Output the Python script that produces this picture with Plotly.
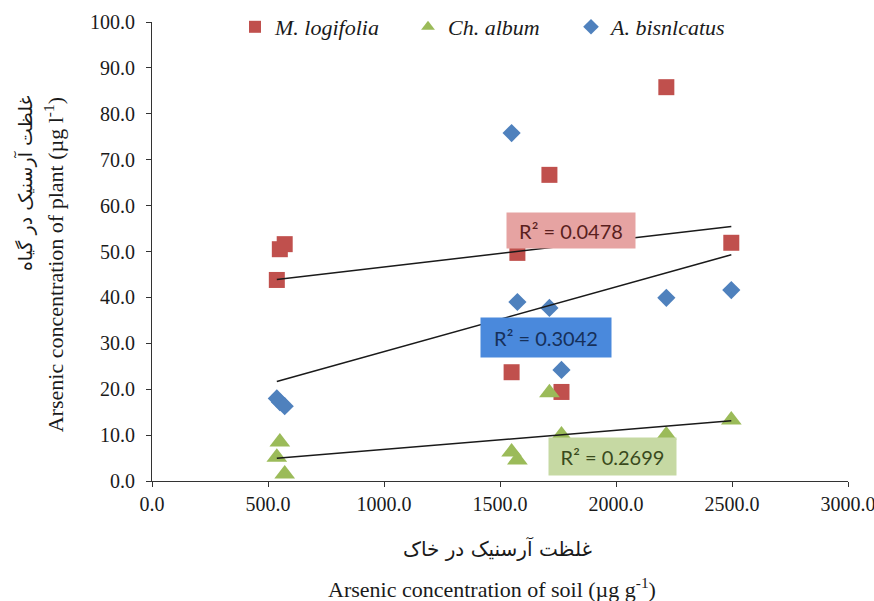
import numpy as np
import plotly.graph_objects as go

# ---- data ----
soil = [538, 551, 572, 1550, 1575, 1713, 1765, 2217, 2497]
m_logifolia = [43.8, 50.5, 51.6, 23.7, 49.7, 66.7, 19.4, 85.8, 51.9]
ch_album = [5.2, 8.5, 1.5, 6.3, 4.6, 19.2, 10.0, 10.0, 13.3]
a_bisnlcatus = [18.0, 17.2, 16.3, 75.8, 39.0, 37.7, 24.2, 39.9, 41.6]

series_names = ["M. logifolia", "Ch. album", "A. bisnlcatus"]
r2_labels = ["R² = 0.0478", "R² = 0.2699", "R² = 0.3042"]

x_ticks = [0, 500, 1000, 1500, 2000, 2500, 3000]
y_ticks = [0, 10, 20, 30, 40, 50, 60, 70, 80, 90, 100]

colors = ["#C0504D", "#9BBB59", "#4F81BD"]
symbols = ["square", "triangle-up", "diamond"]
sizes = [16, 18, 14]
legend_widths = [128, 118, 118]
box_fill = ["#E6A3A2", "#C6D9A3", "#4A89DC"]
box_text = ["#5A1F1E", "#3A4A1C", "#16305A"]
label_pos = [(1804, 54.6), (1987, 5.3), (1700, 31.3)]
box_w = [122, 121, 124]
box_h = [29, 31, 33]

ys = [m_logifolia, ch_album, a_bisnlcatus]

fig = go.Figure()
x_arr = np.array(soil, dtype=float)
for i, y in enumerate(ys):
    fig.add_trace(go.Scatter(
        x=soil, y=y, mode="markers", name="<i>" + series_names[i] + "</i>",
        legendwidth=legend_widths[i],
        marker=dict(symbol=symbols[i], size=sizes[i], color=colors[i],
                    line=dict(width=0)),
    ))

# trendlines (least squares fitted from the data)
for i, y in enumerate(ys):
    k, b = np.polyfit(x_arr, np.array(y, dtype=float), 1)
    xs = [x_arr.min(), x_arr.max()]
    fig.add_trace(go.Scatter(
        x=xs, y=[k * v + b for v in xs], mode="lines", showlegend=False,
        line=dict(color="#1a1a1a", width=1.5), hoverinfo="skip",
    ))

annotations = []
for i in range(3):
    annotations.append(dict(
        x=label_pos[i][0], y=label_pos[i][1], xref="x", yref="y",
        text=r2_labels[i], showarrow=False,
        font=dict(family="Lato", size=20, color=box_text[i]),
        bgcolor=box_fill[i], borderpad=3, width=box_w[i], height=box_h[i],
        align="center", valign="middle",
    ))

serif = "Liberation Serif"
annotations += [
    dict(x=(54 - 152) / 696, y=0.47, xref="paper", yref="paper", textangle=-90,
         xanchor="center", yanchor="middle",
         text="Arsenic concentration of plant (µg l<sup>-1</sup>)", showarrow=False,
         font=dict(family=serif, size=22, color="#1a1a1a")),
    dict(x=(25 - 152) / 696, y=0.649, xref="paper", yref="paper", textangle=-90,
         xanchor="center", yanchor="middle",
         text="غلظت آرسنیک در گیاه", showarrow=False,
         font=dict(family="DejaVu Sans", size=19, color="#1a1a1a")),
    dict(x=0.497, y=-0.148, xref="paper", yref="paper",
         xanchor="center", yanchor="middle",
         text="غلظت آرسنیک در خاک", showarrow=False,
         font=dict(family="DejaVu Sans", size=20, color="#1a1a1a")),
    dict(x=0.489, y=(481 - 588) / 459, xref="paper", yref="paper",
         xanchor="center", yanchor="middle",
         text="Arsenic concentration of soil (µg g<sup>-1</sup>)", showarrow=False,
         font=dict(family=serif, size=22, color="#1a1a1a")),
]

fig.update_layout(
    width=874, height=601,
    margin=dict(l=152, r=26, t=22, b=120, autoexpand=False),
    plot_bgcolor="white", paper_bgcolor="white",
    showlegend=True,
    legend=dict(orientation="h", x=(235 - 152) / 696, xanchor="left",
                y=(481 - 27) / 459, yanchor="middle",
                font=dict(family=serif, size=22, color="#1a1a1a"),
                bgcolor="rgba(0,0,0,0)", itemsizing="constant"),
    annotations=annotations,
)
fig.update_xaxes(
    range=[0, 3000], tickvals=x_ticks, ticktext=[f"{v:.1f}" for v in x_ticks],
    showgrid=False, zeroline=False, showline=True, linecolor="#333333", linewidth=1,
    ticks="outside", ticklen=5, tickcolor="#333333", automargin=False,
    ticklabeloverflow="allow",
    tickfont=dict(family=serif, size=20, color="#1a1a1a"),
)
fig.update_yaxes(
    range=[0, 100], tickvals=y_ticks, ticktext=[f"{v:.1f}" for v in y_ticks],
    showgrid=False, zeroline=False, showline=True, linecolor="#333333", linewidth=1,
    ticks="outside", ticklen=5, tickcolor="#333333", automargin=False,
    ticklabelstandoff=7,
    tickfont=dict(family=serif, size=20, color="#1a1a1a"),
)

fig.write_html("out.html", config={"displayModeBar": False},
               post_script="document.body.style.margin='0';")
